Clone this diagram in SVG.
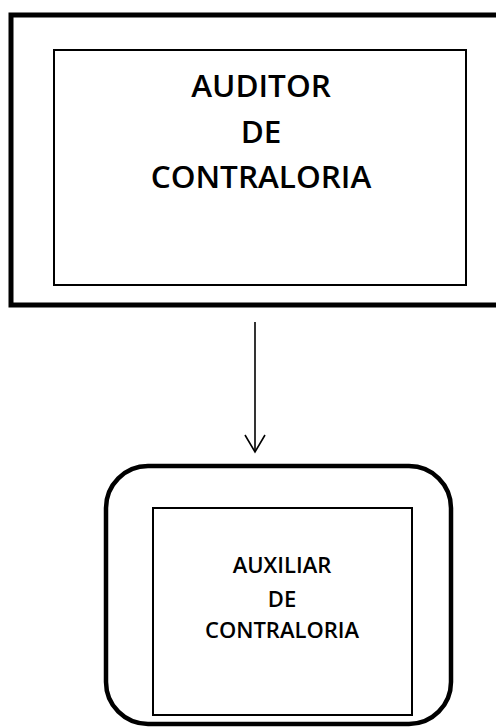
<svg xmlns="http://www.w3.org/2000/svg" width="496" height="728" viewBox="0 0 496 728">
<style>
.frame{fill:none;stroke:#000;stroke-width:5}
.box{fill:none;stroke:#000;stroke-width:2}
.big{font-family:"Open Sans",Lato,sans-serif;font-weight:600;font-size:31.5px;text-anchor:middle;fill:#000}
.small{font-family:"Open Sans",Lato,sans-serif;font-weight:600;font-size:22px;text-anchor:middle;fill:#000}
.conn{fill:none;stroke:#000;stroke-width:1.6}
</style>
<rect width="496" height="728" fill="#fff"/>
<g id="auditor">
<rect class="frame" x="11" y="15" width="495" height="290"/>
<rect class="box" x="54" y="50" width="412" height="235"/>
<text class="big" x="261" y="97">AUDITOR</text>
<text class="big" x="261" y="143">DE</text>
<text class="big" x="261" y="188">CONTRALORIA</text>
</g>
<g id="connectors">
<line class="conn" x1="255" y1="322" x2="255" y2="452"/>
<polyline class="conn" points="245,435 255,452 265,435"/>
</g>
<g id="auxiliar">
<rect class="frame" x="106" y="466" width="345" height="258" rx="42" ry="42" style="stroke-width:4.5"/>
<rect class="box" x="153" y="508" width="259" height="207"/>
<text class="small" x="282" y="573">AUXILIAR</text>
<text class="small" x="282" y="607">DE</text>
<text class="small" x="282" y="638">CONTRALORIA</text>
</g>
</svg>
